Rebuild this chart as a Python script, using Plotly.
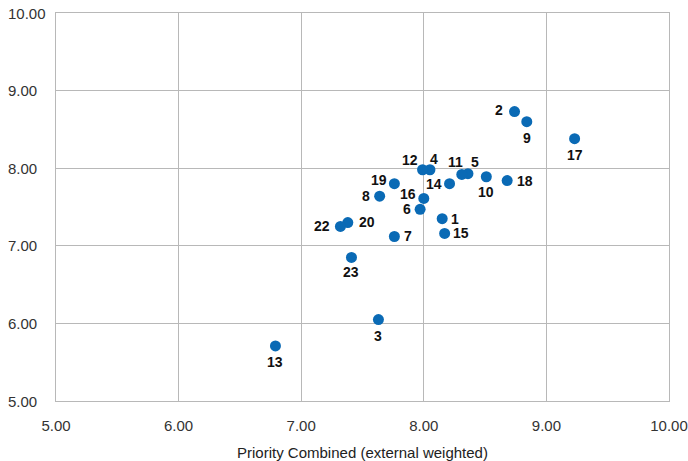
import plotly.graph_objects as go

ids = ["1","2","3","4","5","6","7","8","9","10","11","12","13","14","15","16","17","18","19","20","22","23"]
x_vals = [8.15, 8.74, 7.63, 8.05, 8.36, 7.97, 7.76, 7.64, 8.84, 8.51, 8.31, 7.99, 6.79, 8.21, 8.17, 8.00, 9.23, 8.68, 7.76, 7.38, 7.32, 7.41]
y_vals = [7.35, 8.73, 6.05, 7.98, 7.93, 7.47, 7.12, 7.64, 8.60, 7.89, 7.92, 7.98, 5.71, 7.80, 7.16, 7.61, 8.38, 7.84, 7.80, 7.30, 7.25, 6.85]
tick_vals = [5, 6, 7, 8, 9, 10]
tick_text = ["5.00", "6.00", "7.00", "8.00", "9.00", "10.00"]

# label placement (style)
lab_pos = {
    "1": (13, 0), "2": (-16, 2), "3": (0, -16), "4": (4, 11), "5": (7, 12),
    "6": (-13, 0), "7": (14, 0), "8": (-14, 0), "9": (0, -16), "10": (0, -15),
    "11": (-6, 12), "12": (-13, 10), "13": (0, -16), "14": (-16, 0), "15": (16, 0),
    "16": (-16, 4), "17": (0, -16), "18": (18, 0), "19": (-15, 4), "20": (19, 1),
    "22": (-18, 0), "23": (0, -15),
}

tick_font = dict(family="Liberation Sans, Arial", size=15, color="#333333")

fig = go.Figure()
fig.add_trace(go.Scatter(
    x=x_vals, y=y_vals, mode="markers",
    marker=dict(color="#0a6ab5", size=11),
    hoverinfo="skip", showlegend=False,
))

for i, xv, yv in zip(ids, x_vals, y_vals):
    dx, dy = lab_pos[i]
    fig.add_annotation(
        x=xv, y=yv, text="<b>%s</b>" % i, showarrow=False,
        xshift=dx, yshift=dy, borderpad=0,
        font=dict(family="Liberation Sans, Arial", size=14, color="#111111"),
    )

# left-aligned y tick labels
for tv, tt in zip(tick_vals, tick_text):
    fig.add_annotation(
        xref="paper", yref="y", x=0, y=tv, text=tt, showarrow=False,
        xanchor="left", yanchor="middle", xshift=-50, font=tick_font,
    )

axis_common = dict(
    showgrid=True, gridcolor="#b8b8b8", gridwidth=1,
    showline=True, linecolor="#b8b8b8", linewidth=1, mirror=True,
    zeroline=False, ticks="", automargin=False,
    tickfont=tick_font,
    tickvals=tick_vals, ticktext=tick_text,
)

fig.update_layout(
    width=688, height=461,
    margin=dict(l=56, r=19, t=13, b=60),
    paper_bgcolor="white", plot_bgcolor="white",
    xaxis=dict(range=[5, 10], ticklabelstandoff=11,
               title=dict(text="Priority Combined (external weighted)",
               font=dict(family="Liberation Sans, Arial", size=15, color="#222222"), standoff=14),
               **axis_common),
    yaxis=dict(range=[5, 10], showticklabels=False, **axis_common),
)

fig.write_html("out.html", config={"displayModeBar": False},
               post_script="document.body.style.margin='0';")
